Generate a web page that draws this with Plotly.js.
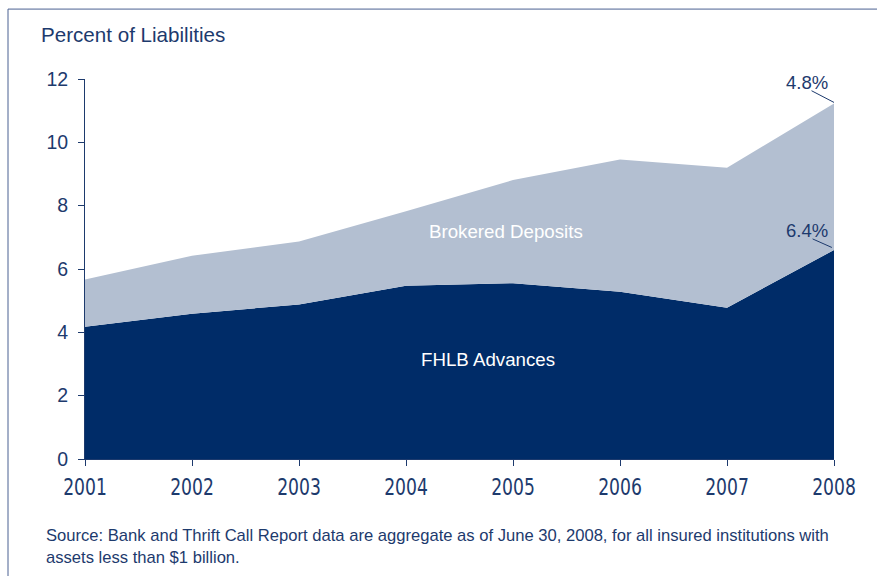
<!DOCTYPE html>
<html>
<head>
<meta charset="utf-8">
<script src="https://cdn.plot.ly/plotly-3.0.1.min.js"></script>
<style>html,body{margin:0;padding:0;background:#fff;}#chart{width:877px;height:576px;}</style>
</head>
<body>
<div id="chart"></div>
<script>
var years = [2001, 2002, 2003, 2004, 2005, 2006, 2007, 2008];
var fhlbAdvances = [4.18, 4.59, 4.88, 5.47, 5.55, 5.28, 4.78, 6.60];
var brokeredDeposits = [1.49, 1.83, 1.99, 2.35, 3.26, 4.18, 4.42, 4.63];
var yTicks = [0, 2, 4, 6, 8, 10, 12];

var navy = '#1d3a6d';
var dark = '#002c68';
var light = '#b3bfd1';
var sans = '"Liberation Sans", Arial, sans-serif';
var narrow = '"Liberation Sans Narrow", "DejaVu Sans Condensed", sans-serif';

var traces = [
  {x: years, y: fhlbAdvances, type: 'scatter', mode: 'lines', stackgroup: 'one',
   line: {width: 0, color: dark}, fillcolor: dark, name: 'FHLB Advances', hoverinfo: 'skip'},
  {x: years, y: brokeredDeposits, type: 'scatter', mode: 'lines', stackgroup: 'one',
   line: {width: 0, color: light}, fillcolor: light, name: 'Brokered Deposits', hoverinfo: 'skip'}
];

var layout = {
  width: 877, height: 576,
  margin: {l: 85, r: 43, t: 79, b: 117},
  paper_bgcolor: '#fff', plot_bgcolor: '#fff',
  showlegend: false,
  font: {family: sans, color: navy},
  xaxis: {
    range: [2001, 2008], tickvals: years, ticktext: years.map(String),
    showgrid: false, zeroline: false, showline: true, linecolor: navy, linewidth: 1,
    ticks: 'outside', ticklen: 6, tickcolor: navy,
    tickfont: {family: narrow, size: 23, color: navy},
    ticklabelstandoff: 1
  },
  yaxis: {
    range: [0, 12], tickvals: yTicks,
    showgrid: false, zeroline: false, showline: true, linecolor: navy, linewidth: 1,
    ticks: 'outside', ticklen: 6, tickcolor: navy,
    tickfont: {family: sans, size: 19.5, color: navy},
    ticklabelstandoff: 6
  },
  shapes: [
    {type: 'rect', xref: 'paper', yref: 'paper', x0: -0.1028, x1: 1.2, y0: -0.5, y1: 1.184,
     line: {color: '#4a6192', width: 1}, fillcolor: 'rgba(0,0,0,0)', layer: 'below'},
    {type: 'line', xref: 'x', yref: 'y', x0: 2007.79, y0: 11.63, x1: 2008, y1: 11.26,
     line: {color: navy, width: 1}},
    {type: 'line', xref: 'x', yref: 'y', x0: 2007.80, y0: 6.95, x1: 2007.98, y1: 6.68,
     line: {color: navy, width: 1}}
  ],
  annotations: [
    {xref: 'paper', yref: 'paper', x: -0.0614, y: 1.116, xanchor: 'left', yanchor: 'middle',
     text: 'Percent of Liabilities', showarrow: false, font: {family: sans, size: 20.6, color: navy}},
    {xref: 'x', yref: 'y', x: 2004.93, y: 7.18, text: 'Brokered Deposits', showarrow: false,
     font: {family: sans, size: 18.7, color: '#ffffff'}},
    {xref: 'x', yref: 'y', x: 2004.77, y: 3.13, text: 'FHLB Advances', showarrow: false,
     font: {family: sans, size: 18.7, color: '#ffffff'}},
    {xref: 'x', yref: 'y', x: 2007.75, y: 11.88, text: '4.8%', showarrow: false,
     font: {family: sans, size: 18.5, color: navy}},
    {xref: 'x', yref: 'y', x: 2007.75, y: 7.23, text: '6.4%', showarrow: false,
     font: {family: sans, size: 18.5, color: navy}},
    {xref: 'paper', yref: 'paper', x: -0.0548, y: -0.172, xanchor: 'left', yanchor: 'top', align: 'left',
     text: 'Source: Bank and Thrift Call Report data are aggregate as of June 30, 2008, for all insured institutions with<br>assets less than $1 billion.',
     showarrow: false, font: {family: sans, size: 16.6, color: navy}}
  ]
};

Plotly.newPlot('chart', traces, layout, {staticPlot: true, displayModeBar: false}).then(function (gd) {
  // condense the year labels horizontally to mimic a narrow typeface
  var labels = gd.querySelectorAll('.xtick text');
  labels.forEach(function (t) {
    var w = t.getComputedTextLength();
    if (w > 48) {
      t.setAttribute('textLength', (w * 0.83).toFixed(1));
      t.setAttribute('lengthAdjust', 'spacingAndGlyphs');
    }
  });
});
</script>
</body>
</html>
